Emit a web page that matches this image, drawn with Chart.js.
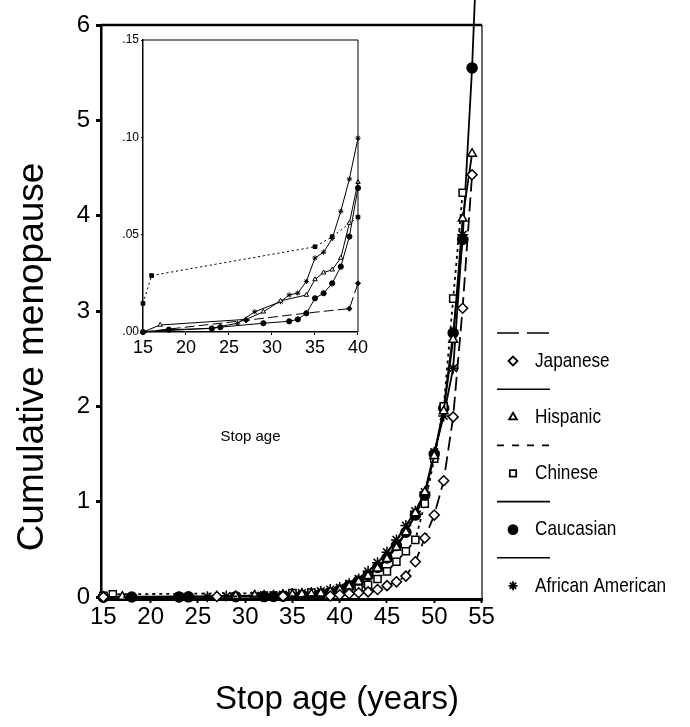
<!DOCTYPE html>
<html>
<head>
<meta charset="utf-8">
<script src="https://cdn.jsdelivr.net/npm/chart.js@4.4.1/dist/chart.umd.min.js"></script>
<style>
  html, body { margin: 0; padding: 0; background: #fff; }
  #wrap { position: relative; width: 690px; height: 727px; }
  #mainChart { position: absolute; left: 0; top: 0; }
  #insetChart { position: absolute; left: 100px; top: 30px; }
</style>
</head>
<body>
<div id="wrap">
  <canvas id="mainChart" width="690" height="727"></canvas>
  <canvas id="insetChart" width="270" height="420"></canvas>
</div>
<script>
// cumulative menopause by stop age
const seriesNames = ['Japanese', 'Hispanic', 'Chinese', 'Caucasian', 'African American'];

const japaneseAges = [15, 27, 34, 39, 40, 41, 42, 43, 44, 45, 46, 47, 48, 49, 50, 51, 52, 53, 54];
const japaneseValues = [0, 0.006, 0.0097, 0.012, 0.025, 0.035, 0.045, 0.055, 0.08, 0.12, 0.16, 0.22, 0.37, 0.62, 0.86, 1.22, 1.89, 3.03, 4.43];

const hispanicAges = [15, 17, 27, 29, 31, 34, 35, 36, 37, 38, 39, 40, 41, 42, 43, 44, 45, 46, 47, 48, 49, 50, 51, 52, 53, 54];
const hispanicValues = [0, 0.0036, 0.0065, 0.0104, 0.016, 0.019, 0.027, 0.0305, 0.032, 0.038, 0.056, 0.077, 0.11, 0.16, 0.22, 0.30, 0.40, 0.52, 0.68, 0.88, 1.10, 1.48, 1.95, 2.70, 3.97, 4.65];

const chineseAges = [15, 16, 35, 37, 40, 41, 42, 43, 44, 45, 46, 47, 48, 49, 50, 51, 52, 53];
const chineseValues = [0.0147, 0.029, 0.0438, 0.049, 0.059, 0.07, 0.09, 0.13, 0.19, 0.27, 0.37, 0.48, 0.60, 0.98, 1.45, 2.00, 3.13, 4.24];

const caucasianAges = [15, 18, 23, 24, 29, 32, 33, 34, 35, 36, 37, 38, 39, 40, 41, 42, 43, 44, 45, 46, 47, 48, 49, 50, 51, 52, 53, 54, 55];
const caucasianValues = [0, 0.0012, 0.0018, 0.0025, 0.0045, 0.0055, 0.0065, 0.0096, 0.0173, 0.0199, 0.025, 0.0336, 0.049, 0.074, 0.12, 0.17, 0.23, 0.31, 0.41, 0.54, 0.68, 0.86, 1.07, 1.50, 1.98, 2.77, 3.75, 5.55, 8.0];

const africanAmericanAges = [15, 23, 26, 28, 31, 32, 33, 34, 35, 36, 37, 38, 39, 40, 41, 42, 43, 44, 45, 46, 47, 48, 49, 50, 51, 52, 53];
const africanAmericanValues = [0, 0.002, 0.0045, 0.0104, 0.0156, 0.019, 0.020, 0.026, 0.038, 0.041, 0.048, 0.062, 0.0786, 0.0996, 0.14, 0.19, 0.27, 0.36, 0.47, 0.60, 0.75, 0.90, 1.10, 1.52, 1.90, 2.40, 3.80];

const xTicks = [15, 20, 25, 30, 35, 40, 45, 50, 55];
const yTicks = [0, 1, 2, 3, 4, 5, 6];
const insetXTicks = [15, 20, 25, 30, 35, 40];
const insetYTicks = [0, 0.05, 0.10, 0.15];

const SANS = "'Liberation Sans', Arial, sans-serif";

function toPoints(ages, vals) {
    return ages.map((a, i) => ({ x: a, y: vals[i] }));
}

const allAges = [japaneseAges, hispanicAges, chineseAges, caucasianAges, africanAmericanAges];
const allValues = [japaneseValues, hispanicValues, chineseValues, caucasianValues, africanAmericanValues];
const markers = ['rectRot', 'triangle', 'rect', 'circle', 'star'];
const fills = ['#fff', '#fff', '#fff', '#000', '#000'];
const dashes = [[14, 6], [], [3, 4], [], []];
const legendDashes = [[22, 8], [], [7, 8], [], []];

function makeDatasets(small) {
    return seriesNames.map((name, i) => ({
        label: name,
        data: toPoints(allAges[i], allValues[i]),
        borderColor: '#000',
        borderWidth: small ? 1 : 1.8,
        borderDash: small ? dashes[i].map(d => d * 0.7) : dashes[i],
        legendDash: legendDashes[i],
        pointStyle: markers[i],
        pointBackgroundColor: small && i !== 1 ? '#000' : fills[i],
        pointBorderColor: '#000',
        pointBorderWidth: small ? 1 : 1.5,
        pointRadius: small ? 2.6 : (i === 4 ? 5.5 : 5),
        tension: 0,
        fill: false,
        clip: small ? { left: 5, top: 5, right: 3, bottom: 5 } : { left: 8, top: false, right: 8, bottom: 8 }
    }));
}

// box lines on the top and right of the plot area
const framePlugin = {
    id: 'frame',
    afterDatasetsDraw(chart, args, opts) {
        const { ctx, chartArea: a } = chart;
        ctx.save();
        ctx.strokeStyle = '#000';
        ctx.lineWidth = opts.top;
        ctx.beginPath(); ctx.moveTo(a.left, a.top); ctx.lineTo(a.right, a.top); ctx.stroke();
        ctx.lineWidth = opts.right;
        ctx.beginPath(); ctx.moveTo(a.right, a.top); ctx.lineTo(a.right, a.bottom); ctx.stroke();
        ctx.restore();
    }
};

// legend on the right: line sample above, marker + name below
const legendPlugin = {
    id: 'sideLegend',
    afterDraw(chart, args, opts) {
        if (!opts.show) return;
        const ctx = chart.ctx;
        chart.data.datasets.forEach((ds, i) => {
            const y = opts.top + i * opts.spacing;
            ctx.save();
            ctx.strokeStyle = '#000';
            ctx.lineWidth = 1.6;
            ctx.setLineDash(ds.legendDash);
            ctx.beginPath();
            ctx.moveTo(opts.x, y);
            ctx.lineTo(opts.x + 53, y);
            ctx.stroke();
            ctx.setLineDash([]);
            ctx.fillStyle = ds.pointBackgroundColor;
            ctx.lineWidth = 1.8;
            Chart.helpers.drawPoint(ctx, { pointStyle: ds.pointStyle, radius: 4.5, borderWidth: 1.8, rotation: 0 }, opts.x + 16, y + opts.textDy);
            ctx.fillStyle = '#000';
            ctx.font = opts.font;
            ctx.textAlign = 'left';
            ctx.textBaseline = 'middle';
            ctx.translate(opts.x + 38, y + opts.textDy);
            ctx.scale(opts.squeeze, 1);
            ctx.fillText(ds.label, 0, 0);
            ctx.restore();
        });
    }
};

// axis titles placed where the figure has them
const titlesPlugin = {
    id: 'titles',
    afterDraw(chart, args, opts) {
        const ctx = chart.ctx;
        (opts.items || []).forEach(t => {
            ctx.save();
            ctx.translate(t.x, t.y);
            ctx.rotate(t.rotation || 0);
            ctx.font = t.font;
            ctx.fillStyle = '#000';
            ctx.textAlign = 'center';
            ctx.textBaseline = 'middle';
            ctx.fillText(t.text, 0, 0);
            ctx.restore();
        });
    }
};

const mainChart = new Chart(document.getElementById('mainChart'), {
    type: 'line',
    data: { datasets: makeDatasets(false) },
    options: {
        responsive: false,
        animation: false,
        layout: { padding: { top: 25, right: 208, left: 0, bottom: 0 } },
        plugins: {
            legend: { display: false },
            tooltip: { enabled: false },
            frame: { top: 2.5, right: 1.2 },
            sideLegend: { show: true, x: 497, top: 333, spacing: 56.2, textDy: 28, font: '21px ' + SANS, squeeze: 0.82 },
            titles: {
                items: [
                    { text: 'Cumulative menopause', x: 33, y: 357, rotation: -Math.PI / 2, font: '37px ' + SANS },
                    { text: 'Stop age (years)', x: 337, y: 700, font: '33px ' + SANS }
                ]
            }
        },
        scales: {
            x: {
                type: 'linear',
                min: 14.75,
                max: 55.05,
                afterFit: s => { s.height = 128; },
                afterBuildTicks: s => { s.ticks = xTicks.map(v => ({ value: v })); },
                ticks: { font: { family: SANS, size: 24 }, color: '#000', padding: 0, maxRotation: 0, autoSkip: false },
                grid: { drawOnChartArea: false, tickLength: 4, tickWidth: 2, color: '#000' },
                border: { color: '#000', width: 3 }
            },
            y: {
                min: -0.02,
                max: 6,
                afterFit: s => { s.width = 101; },
                afterBuildTicks: s => { s.ticks = yTicks.map(v => ({ value: v })); },
                ticks: { font: { family: SANS, size: 24 }, color: '#000', padding: 6 },
                grid: { drawOnChartArea: false, tickLength: 5, tickWidth: 3, color: '#000' },
                border: { color: '#000', width: 2.5 }
            }
        }
    },
    plugins: [framePlugin, legendPlugin, titlesPlugin]
});

// inset: same data, zoomed to ages 15-40
const insetChart = new Chart(document.getElementById('insetChart'), {
    type: 'line',
    data: { datasets: makeDatasets(true) },
    options: {
        responsive: false,
        animation: false,
        layout: { padding: { top: 10, right: 11, left: 0, bottom: 0 } },
        plugins: {
            legend: { display: false },
            tooltip: { enabled: false },
            frame: { top: 1, right: 1 }
        },
        scales: {
            x: {
                type: 'linear',
                min: 15,
                max: 40,
                afterFit: s => { s.height = 118; },
                afterBuildTicks: s => { s.ticks = insetXTicks.map(v => ({ value: v })); },
                ticks: { font: { family: SANS, size: 18 }, color: '#000', padding: 2, maxRotation: 0, autoSkip: false },
                grid: { drawOnChartArea: false, tickLength: 3, tickWidth: 1, color: '#000' },
                border: { color: '#000', width: 1.5 },
                title: { display: true, text: 'Stop age', color: '#000', font: { family: SANS, size: 15 }, padding: { top: 0, bottom: 4 } }
            },
            y: {
                min: 0,
                max: 0.15,
                afterFit: s => { s.width = 43; },
                afterBuildTicks: s => { s.ticks = insetYTicks.map(v => ({ value: v })); },
                ticks: {
                    font: { family: SANS, size: 12 },
                    color: '#000',
                    padding: 2,
                    callback: v => v.toFixed(2).replace(/^0/, '')
                },
                grid: { drawOnChartArea: false, tickLength: 2, tickWidth: 1, color: '#000' },
                border: { color: '#000', width: 1.5 }
            }
        }
    },
    plugins: [framePlugin]
});
</script>
</body>
</html>
